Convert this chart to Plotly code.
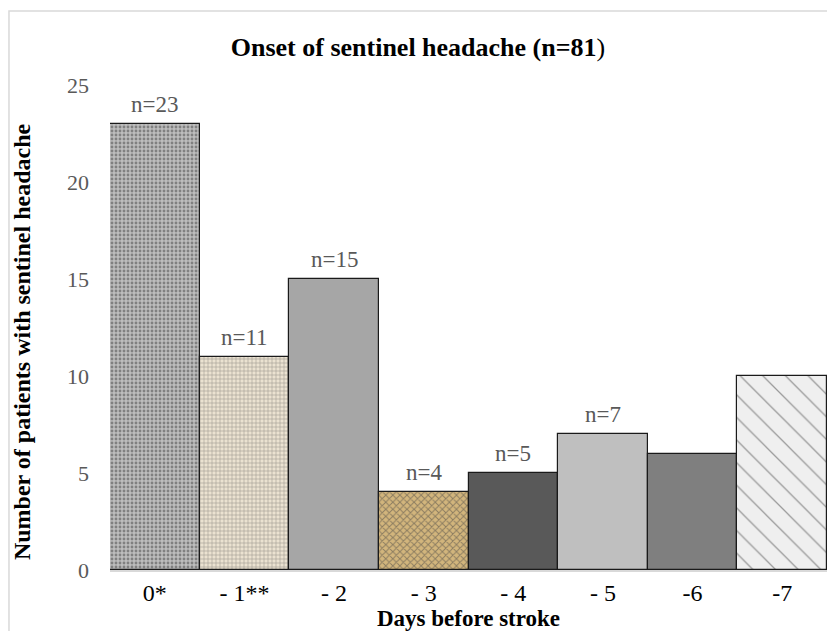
import plotly.graph_objects as go

categories = ["0*", "- 1**", "- 2", "- 3", "- 4", "- 5", "-6", "-7"]
patients = [23, 11, 15, 4, 5, 7, 6, 10]
labels = ["n=23", "n=11", "n=15", "n=4", "n=5", "n=7", "n=6", "n=10"]
y_ticks = [0, 5, 10, 15, 20, 25]

# styles (textures approximated with patterns)
base_colors = ["#bdbdbd", "#ebe2d1", "#a6a6a6", "#d2b57c", "#595959", "#bfbfbf", "#7f7f7f", "#efefef"]
pat_shapes = [".", "+", "", "x", "", "", "", "\\"]
pat_fg = ["#5c5c5c", "#cdbd9f", "#a6a6a6", "#6e4f22", "#595959", "#bfbfbf", "#7f7f7f", "#dadada"]
pat_size = [4, 4, 6, 5, 6, 6, 6, 16]
pat_sol = [0.4, 0.25, 0.3, 0.35, 0.3, 0.3, 0.3, 0.08]

font = "Liberation Serif, Times New Roman, serif"

fig = go.Figure()
fig.add_trace(go.Bar(
    x=categories, y=patients,
    marker=dict(
        color=base_colors,
        line=dict(color="#1a1a1a", width=1.2),
        pattern=dict(shape=pat_shapes, fgcolor=pat_fg, size=pat_size,
                     solidity=pat_sol, fillmode="overlay"),
    ),
    showlegend=False,
    hoverinfo="skip",
))

for c, v, t in zip(categories, patients, labels):
    fig.add_annotation(x=c, y=v, text=t, showarrow=False, yanchor="bottom",
                       yshift=5, font=dict(family=font, size=23, color="#595959"))

# y-axis title as annotation for exact placement
fig.add_annotation(xref="paper", yref="paper", x=-0.1227, y=0.47,
                   text="<b>Number of patients with sentinel headache</b>",
                   textangle=-90, showarrow=False, xanchor="center", yanchor="middle",
                   font=dict(family=font, size=24, color="black"))

# outer frame
fig.add_shape(type="rect", xref="paper", yref="paper",
              x0=-0.1409, x1=1.05, y0=-0.2, y1=1.1526,
              line=dict(color="#d9d9d9", width=1.5), fillcolor="rgba(0,0,0,0)", layer="below")

fig.update_layout(
    width=835, height=631,
    margin=dict(l=102, r=16, t=77, b=69, autoexpand=False),
    paper_bgcolor="white", plot_bgcolor="white",
    bargap=0,
    title=dict(text="<b>Onset of sentinel headache (n=81</b>)", x=0.491, xref="container",
               xanchor="center", y=0.938, yanchor="middle",
               font=dict(family=font, size=26, color="black")),
    font=dict(family=font),
)
fig.update_xaxes(
    type="category", range=[-0.5, 7.5],
    showline=True, linecolor="#d9d9d9", linewidth=1.5,
    showgrid=False, ticks="",
    tickfont=dict(family=font, size=24, color="black"),
    title=dict(text="<b>Days before stroke</b>", standoff=2,
               font=dict(family=font, size=23, color="black")),
)
fig.update_yaxes(
    range=[0, 25], tickvals=y_ticks, showgrid=False, showline=False,
    zeroline=False, ticks="", ticklabelstandoff=20,
    tickfont=dict(family=font, size=22, color="#595959"),
)

fig.write_html("out.html")
